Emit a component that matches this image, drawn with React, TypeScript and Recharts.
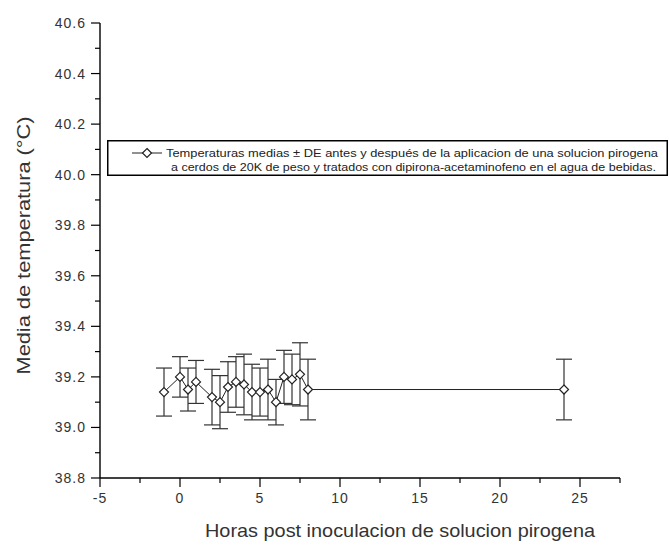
import { ComposedChart, Line, XAxis, YAxis, ErrorBar, Label } from "recharts";

// hours after inoculation
const HOURS = [-1, 0, 0.5, 1, 2, 2.5, 3, 3.5, 4, 4.5, 5, 5.5, 6, 6.5, 7, 7.5, 8, 24];
// mean temperature (°C)
const TEMPS = [
  39.14, 39.2, 39.15, 39.18, 39.12, 39.1, 39.16, 39.18, 39.17, 39.14, 39.14, 39.15, 39.1,
  39.2, 39.19, 39.21, 39.15, 39.15,
];
// standard deviation
const SD = [
  0.095, 0.08, 0.085, 0.085, 0.11, 0.105, 0.1, 0.1, 0.12, 0.11, 0.095, 0.12, 0.09, 0.105,
  0.1, 0.125, 0.12, 0.12,
];

const X_MAJOR = [-5, 0, 5, 10, 15, 20, 25];
const X_MINOR = [-2.5, 2.5, 7.5, 12.5, 17.5, 22.5, 27.5];
const Y_MAJOR = [38.8, 39.0, 39.2, 39.4, 39.6, 39.8, 40.0, 40.2, 40.4, 40.6];
const Y_MINOR = [38.9, 39.1, 39.3, 39.5, 39.7, 39.9, 40.1, 40.3, 40.5];

const SERIES_LINE1 =
  "Temperaturas medias \u00b1 DE antes y despu\u00e9s de la aplicacion de una solucion pirogena";
const SERIES_LINE2 =
  "a cerdos de 20K de peso y tratados con dipirona-acetaminofeno en el agua de bebidas.";

const data = HOURS.map((h, i) => ({ h, t: TEMPS[i], sd: SD[i] }));

const FONT = "Arial, 'Liberation Sans', sans-serif";
const TXT = "#333";

function XTick(props: any) {
  const { x, y, payload } = props;
  const major = X_MAJOR.includes(payload.value);
  return (
    <g>
      <line x1={x} x2={x} y1={y} y2={y + (major ? 9 : 5)} stroke="#000" strokeWidth={1.2} />
      {major && (
        <text x={x} y={y + 25} textAnchor="middle" fontSize={14} letterSpacing={1} fill={TXT} fontFamily={FONT}>
          {payload.value}
        </text>
      )}
    </g>
  );
}

function YTick(props: any) {
  const { x, y, payload } = props;
  const major = Y_MAJOR.some((v) => Math.abs(v - payload.value) < 1e-6);
  return (
    <g>
      <line x1={x} x2={x - (major ? 9 : 5)} y1={y} y2={y} stroke="#000" strokeWidth={1.2} />
      {major && (
        <text x={x - 14} y={y + 5} textAnchor="end" fontSize={14} letterSpacing={1} fill={TXT} fontFamily={FONT}>
          {payload.value.toFixed(1)}
        </text>
      )}
    </g>
  );
}

function Diamond(props: any) {
  const { cx, cy } = props;
  if (cx == null || cy == null) return null;
  const r = 4.5;
  return (
    <polygon
      points={`${cx},${cy - r} ${cx + r},${cy} ${cx},${cy + r} ${cx - r},${cy}`}
      fill="#fff"
      stroke="#222"
      strokeWidth={1.2}
    />
  );
}

function LegendBox() {
  return (
    <svg
      width={561}
      height={36}
      style={{ position: "absolute", left: 107, top: 140 }}
    >
      <rect x={0.75} y={0.75} width={559.5} height={34.5} fill="#fff" stroke="#000" strokeWidth={1.5} />
      <line x1={25} x2={55} y1={13} y2={13} stroke="#222" strokeWidth={1} />
      <Diamond cx={40} cy={13} />
      <text x={59} y={17} fontSize={10.5} fill="#222" fontFamily={FONT} textLength={492} lengthAdjust="spacingAndGlyphs">
        {SERIES_LINE1}
      </text>
      <text x={64} y={31} fontSize={10.5} fill="#222" fontFamily={FONT} textLength={485} lengthAdjust="spacingAndGlyphs">
        {SERIES_LINE2}
      </text>
    </svg>
  );
}

export default function App() {
  return (
    <div style={{ position: "relative", width: 669, height: 546, background: "#fff" }}>
      <style>{"body{margin:0}"}</style>
      <ComposedChart
        width={669}
        height={546}
        data={data}
        margin={{ top: 23, right: 49, bottom: 0, left: 0 }}
      >
        <XAxis
          dataKey="h"
          type="number"
          domain={[-5, 27.5]}
          ticks={[...X_MAJOR, ...X_MINOR].sort((a, b) => a - b)}
          interval={0}
          height={68}
          tickSize={0}
          tickMargin={0}
          tickLine={false}
          tick={<XTick />}
          axisLine={{ stroke: "#000", strokeWidth: 1.4 }}
        >
          <Label
            content={({ viewBox }: any) => (
              <text
                x={viewBox.x + viewBox.width / 2 + 40}
                y={viewBox.y + 59}
                textAnchor="middle"
                fontSize={19}
                fill={TXT}
                fontFamily={FONT}
                textLength={390}
                lengthAdjust="spacingAndGlyphs"
              >
                Horas post inoculacion de solucion pirogena
              </text>
            )}
          />
        </XAxis>
        <YAxis
          type="number"
          domain={[38.8, 40.6]}
          ticks={[...Y_MAJOR, ...Y_MINOR].sort((a, b) => a - b)}
          interval={0}
          width={100}
          tickSize={0}
          tickMargin={0}
          tickLine={false}
          tick={<YTick />}
          axisLine={{ stroke: "#000", strokeWidth: 1.4 }}
        >
          <Label
            content={({ viewBox }: any) => {
              const x = viewBox.x + 30;
              const y = viewBox.y + viewBox.height / 2 - 5;
              return (
                <text
                  x={x}
                  y={y}
                  transform={`rotate(-90 ${x} ${y})`}
                  textAnchor="middle"
                  fontSize={18}
                  fill={TXT}
                  fontFamily={FONT}
                  textLength={258}
                  lengthAdjust="spacingAndGlyphs"
                >
                  Media de temperatura (°C)
                </text>
              );
            }}
          />
        </YAxis>
        <Line
          dataKey="t"
          stroke="#222"
          strokeWidth={1}
          dot={<Diamond />}
          activeDot={false}
          isAnimationActive={false}
        >
          <ErrorBar dataKey="sd" direction="y" width={8} stroke="#333" strokeWidth={1.2} />
        </Line>
      </ComposedChart>
      <LegendBox />
    </div>
  );
}
